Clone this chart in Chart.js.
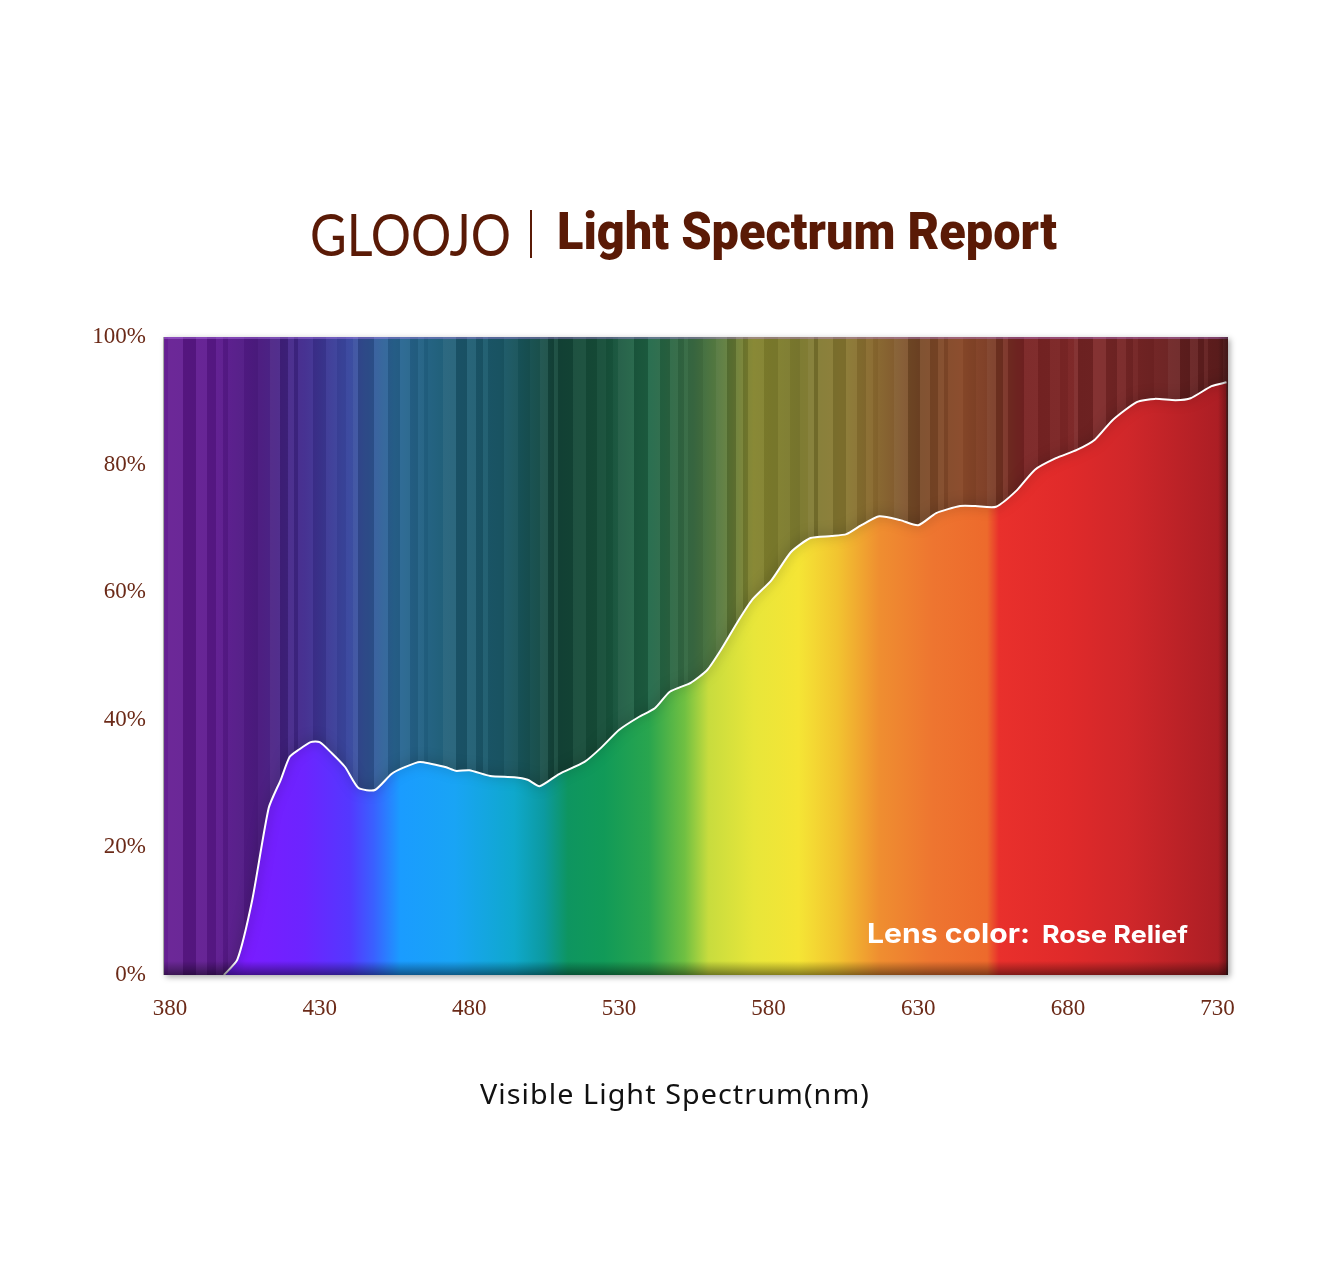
<!DOCTYPE html>
<html><head><meta charset="utf-8">
<script src="https://cdn.jsdelivr.net/npm/chart.js@4.4.1/dist/chart.umd.min.js"></script>
<style>
html,body{margin:0;padding:0;background:#fff;width:1325px;height:1279px;overflow:hidden}
#wrap{position:relative;width:1325px;height:1279px}
#c{position:absolute;left:0;top:0}
.t{position:absolute;white-space:nowrap;transform-origin:0 0;line-height:1}
#logo{left:310px;top:205px;font-family:Lato,'Noto Sans',sans-serif;font-weight:400;font-size:58px;color:#5a1a06}
#div{position:absolute;left:530px;top:210px;width:1.5px;height:48px;background:#5a1a06}
#title{left:557px;top:206px;font-family:Roboto,'Noto Sans',sans-serif;font-weight:900;font-size:52px;color:#5a1a06}
#xt{left:480px;top:1080px;font-family:'Noto Sans',sans-serif;font-size:27px;color:#111;letter-spacing:1px}
</style></head>
<body><div id="wrap">
<canvas id="c" width="1325" height="1279"></canvas>
<div class="t" id="logo">GLOOJO</div>
<div id="div"></div>
<div class="t" id="title">Light Spectrum Report</div>
<div class="t" id="xt">Visible Light Spectrum(nm)</div>
</div>
<script>
// ---- data ----
const wavelengthsNm = [398, 402.5, 407.5, 413, 417, 420, 423, 427, 430, 434, 438.5, 443, 448.5, 454, 458, 463.5, 472, 475.5, 480, 487, 495, 499.5, 503.5, 510, 518.5, 524, 530, 536.5, 542, 547, 554, 559.5, 564, 570, 574.5, 581, 587.5, 594, 601, 606, 611, 617, 624, 630, 636, 644, 649, 656, 663, 669, 676, 683, 689, 695, 703, 709, 716, 721, 728, 733];
const transmissionPct = [0, 2.4, 11.8, 26.2, 30.6, 34.2, 35.3, 36.5, 36.5, 34.8, 32.6, 29.3, 29.0, 31.5, 32.5, 33.4, 32.6, 32.0, 32.1, 31.2, 31.0, 30.6, 29.6, 31.5, 33.4, 35.6, 38.4, 40.4, 41.8, 44.4, 45.8, 47.8, 50.9, 55.6, 58.8, 61.9, 66.3, 68.5, 68.8, 69.1, 70.5, 71.9, 71.3, 70.5, 72.4, 73.5, 73.5, 73.4, 76.0, 79.2, 81.0, 82.3, 83.9, 87.0, 89.8, 90.3, 90.1, 90.4, 92.3, 92.9];
const xTickValues = [380, 430, 480, 530, 580, 630, 680, 730];
const yTickValues = [0, 20, 40, 60, 80, 100];
const xMin = 378, xMax = 733.5;
const lensLabel = 'Lens color:';
const lensName = 'Rose Relief';

// ---- decoration styles ----
const darkStops = [[378,'#641a92'],[395,'#5e1a90'],[410,'#4c1c80'],[425,'#402a8e'],[440,'#3a4aa0'],[455,'#2a6896'],[470,'#1f5f7a'],[490,'#1b5a6a'],[510,'#15483a'],[525,'#17503a'],[540,'#206848'],[555,'#3a6a42'],[565,'#5a7a3a'],[575,'#85852e'],[590,'#7c7a30'],[605,'#8a7a32'],[615,'#8a6a30'],[630,'#7a4a28'],[645,'#8a4a2a'],[655,'#7a3a24'],[665,'#7a2424'],[690,'#7e2828'],[733.5,'#5e1e1e']];
const brightStops = [[398,'#6a1ef0'],[405,'#7a1cff'],[425,'#6c24ff'],[440,'#5438ff'],[448,'#3a60ff'],[457,'#1a9cff'],[475,'#19a4f5'],[495,'#0fa8cc'],[505,'#0c9aa0'],[513,'#0e9560'],[525,'#119a58'],[540,'#29a54e'],[552,'#70c042'],[560,'#c8dc3e'],[575,'#e8e63a'],[590,'#f5e535'],[603,'#f2c430'],[617,'#ef8e30'],[635,'#ee7530'],[653,'#ed6a2c'],[657,'#e9302c'],[680,'#e02a2a'],[700,'#d0272a'],[733.5,'#a81d24']];

function hGrad(chart, stops){
  const {ctx, chartArea:a, scales:{x}} = chart;
  const g = ctx.createLinearGradient(a.left,0,a.right,0);
  const w = a.right - a.left;
  stops.forEach(([nm,c])=>{ let f=(x.getPixelForValue(nm)-a.left)/w; g.addColorStop(Math.min(1,Math.max(0,f)), c); });
  return g;
}

const bandPlugin = {
  id:'band',
  beforeDatasetsDraw(chart){
    const {ctx, chartArea:a} = chart;
    ctx.save();
    ctx.shadowColor='rgba(0,0,0,0.35)'; ctx.shadowBlur=6; ctx.shadowOffsetX=2; ctx.shadowOffsetY=2;
    ctx.fillStyle = hGrad(chart, darkStops);
    ctx.fillRect(a.left, a.top, a.right-a.left, a.bottom-a.top);
    ctx.restore();
    // vertical stripes (decorative)
    ctx.save();
    let px = a.left, i = 0;
    while(px < a.right){
      const w = 4 + ((i*37) % 13);
      const k = (i*53) % 9;
      ctx.fillStyle = (k % 2) ? 'rgba(0,0,0,'+(0.03+k*0.014)+')' : 'rgba(255,255,255,'+(0.015+k*0.006)+')';
      ctx.fillRect(px, a.top, Math.min(w, a.right-px), a.bottom-a.top);
      px += w; i++;
    }
    ctx.fillStyle='rgba(200,140,255,0.35)';
    ctx.fillRect(a.left, a.top, a.right-a.left, 2);
    ctx.fillStyle='rgba(120,120,120,0.6)';
    ctx.fillRect(a.left-1, a.top, 1.2, a.bottom-a.top);
    ctx.restore();
  },
  beforeDatasetDraw(chart){
    const ctx = chart.ctx; ctx.save();
    ctx.shadowColor='rgba(0,0,0,0.55)'; ctx.shadowBlur=12; ctx.shadowOffsetY=-1;
  },
  afterDatasetDraw(chart){ chart.ctx.restore(); },
  afterDatasetsDraw(chart){
    const {ctx, chartArea:a} = chart;
    ctx.save();
    const g = ctx.createLinearGradient(0,a.bottom-14,0,a.bottom);
    g.addColorStop(0,'rgba(0,0,0,0)'); g.addColorStop(1,'rgba(0,0,0,0.45)');
    ctx.fillStyle=g; ctx.fillRect(a.left,a.bottom-14,a.right-a.left,14);
    const g2 = ctx.createLinearGradient(a.right-10,0,a.right,0);
    g2.addColorStop(0,'rgba(0,0,0,0)'); g2.addColorStop(1,'rgba(0,0,0,0.35)');
    ctx.fillStyle=g2; ctx.fillRect(a.right-10,a.top,10,a.bottom-a.top);
    // lens label
    ctx.fillStyle='#fff'; ctx.textBaseline='alphabetic';
    ctx.font='bold 27px Inter, Roboto, sans-serif';
    let w1 = ctx.measureText(lensLabel).width;
    ctx.save(); ctx.translate(867,943); ctx.scale(163/w1,1); ctx.fillText(lensLabel,0,0); ctx.restore();
    ctx.font='bold 24px Inter, Roboto, sans-serif';
    let w2 = ctx.measureText(lensName).width;
    ctx.save(); ctx.translate(1042,943); ctx.scale(146/w2,1); ctx.fillText(lensName,0,0); ctx.restore();
    ctx.restore();
  }
};

const tickFont = {family:"'Liberation Serif', 'Times New Roman', serif", size:23};
const tickColor = '#6b2a18';

new Chart(document.getElementById('c'), {
  type:'line',
  data:{ datasets:[{
    data: wavelengthsNm.map((x,i)=>({x, y:transmissionPct[i]})),
    borderColor:'#ffffff', borderWidth:2, pointRadius:0, tension:0.2,
    fill:'origin',
    backgroundColor:(c)=>{ if(!c.chart.chartArea) return 'rgba(0,0,0,0)'; return hGrad(c.chart, brightStops); }
  }]},
  options:{
    responsive:false, animation:false, devicePixelRatio:1,
    layout:{padding:{top:337,right:97,left:0,bottom:0}},
    plugins:{legend:{display:false}, tooltip:{enabled:false}},
    scales:{
      x:{type:'linear', min:xMin, max:xMax,
        grid:{display:false, drawTicks:false}, border:{display:false},
        afterBuildTicks:(s)=>{ s.ticks = xTickValues.map(v=>({value:v})); },
        afterFit:(s)=>{ s.height = 304; },
        ticks:{font:tickFont, color:tickColor, padding:20, maxRotation:0, autoSkip:false, callback:(v)=>String(v)}
      },
      y:{min:0, max:100,
        grid:{display:false, drawTicks:false}, border:{display:false},
        afterBuildTicks:(s)=>{ s.ticks = yTickValues.map(v=>({value:v})); },
        afterFit:(s)=>{ s.width = 164; },
        ticks:{font:tickFont, color:tickColor, padding:18, callback:(v)=>v+'%'}
      }
    }
  },
  plugins:[bandPlugin]
});

function fit(id, target){ const el=document.getElementById(id); const w=el.getBoundingClientRect().width; el.style.transform='scaleX('+(target/w)+')'; }
fit('logo',201); fit('title',500); fit('xt',390);
</script>
</body></html>
